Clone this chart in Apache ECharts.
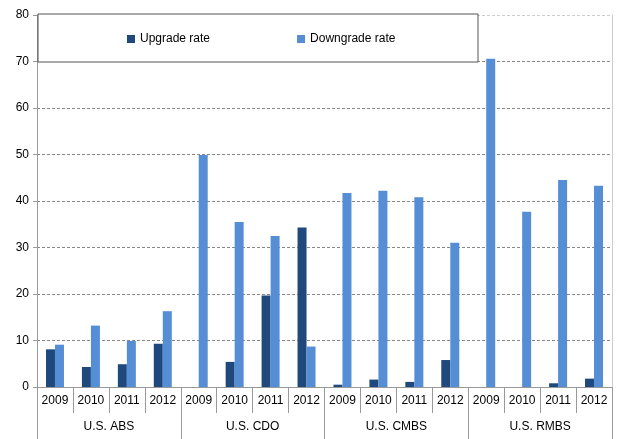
<!DOCTYPE html>
<html>
<head>
<meta charset="utf-8">
<script src="https://cdn.jsdelivr.net/npm/echarts@6/dist/echarts.min.js"></script>
<style>
html,body{margin:0;padding:0;background:#fff;}
#main{width:617px;height:439px;}
</style>
</head>
<body>
<div id="main"></div>
<script>
var years = ['2009','2010','2011','2012','2009','2010','2011','2012','2009','2010','2011','2012','2009','2010','2011','2012'];
var groups = ['U.S. ABS','U.S. CDO','U.S. CMBS','U.S. RMBS'];
var upgrade = [8.1, 4.3, 4.9, 9.3, 0, 5.4, 19.7, 34.3, 0.5, 1.6, 1.1, 5.8, 0, 0, 0.8, 1.8];
var downgrade = [9.1, 13.2, 9.9, 16.3, 49.9, 35.5, 32.5, 8.7, 41.7, 42.2, 40.8, 31.0, 70.6, 37.7, 44.5, 43.3];

window.onload = function(){
	var myChart = echarts.init(document.getElementById('main'));
	var font = 'Liberation Sans, Arial, sans-serif';

	option = {
		animation: false,
		textStyle: { fontFamily: font },
		grid: { left: 37, right: 5, top: 15, bottom: 52 },
		graphic: [{
			type: 'rect',
			z: 5,
			shape: { x: 38, y: 14, width: 440, height: 48 },
			style: { fill: '#fff', stroke: '#555', lineWidth: 1 }
		}],
		legend: {
			z: 6,
			left: 127,
			top: 33,
			padding: 0,
			itemWidth: 8,
			itemHeight: 8,
			itemGap: 87,
			icon: 'rect',
			itemStyle: { borderWidth: 0 },
			textStyle: { color: '#000', fontSize: 12, fontFamily: font },
			data: ['Upgrade rate', 'Downgrade rate']
		},
		xAxis: [{
			type: 'category',
			data: years,
			position: 'bottom',
			axisLine: { lineStyle: { color: '#999' } },
			axisTick: { show: true, interval: 0, length: 26, lineStyle: { color: '#999' } },
			axisLabel: { interval: 0, margin: 8, color: '#000', fontSize: 12, fontFamily: font }
		}, {
			type: 'category',
			data: groups,
			position: 'bottom',
			axisLine: { show: false },
			axisTick: { show: true, interval: 0, length: 52, lineStyle: { color: '#999' } },
			axisLabel: { interval: 0, margin: 34, color: '#000', fontSize: 12, fontFamily: font }
		}],
		yAxis: [{
			type: 'value',
			min: 0,
			max: 80,
			interval: 10,
			axisLine: { show: true, lineStyle: { color: '#999' } },
			axisTick: { show: true, length: 4, lineStyle: { color: '#999' } },
			axisLabel: { margin: 8, color: '#000', fontSize: 12, fontFamily: font },
			splitLine: {
				show: true,
				lineStyle: {
					type: [3, 2],
					color: ['#888','#888','#888','#888','#888','#888','#888','#888','#ccc']
				}
			}
		}, {
			type: 'value',
			position: 'right',
			min: 0,
			max: 80,
			interval: 10,
			axisLine: { show: true, lineStyle: { color: '#ccc' } },
			axisTick: { show: false },
			axisLabel: { show: false },
			splitLine: { show: false }
		}],
		series: [{
			name: 'Upgrade rate',
			type: 'bar',
			data: upgrade,
			barWidth: 9,
			barGap: '0%',
			itemStyle: { color: '#1f497d' }
		}, {
			name: 'Downgrade rate',
			type: 'bar',
			data: downgrade,
			barWidth: 9,
			barGap: '0%',
			itemStyle: { color: '#558ed5' }
		}]
	};

	myChart.setOption(option);
}
</script>
</body>
</html>
